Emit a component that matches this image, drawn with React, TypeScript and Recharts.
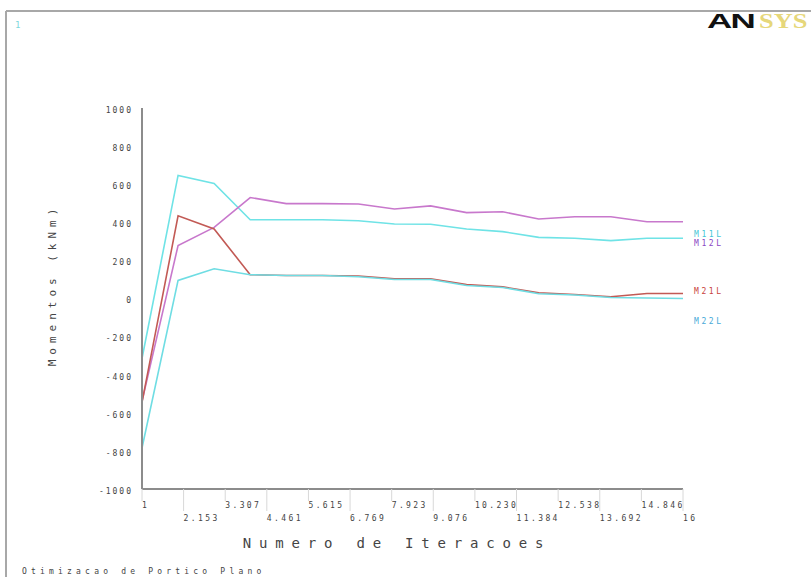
import React from 'react';
import { LineChart, Line, XAxis, YAxis } from 'recharts';

const iterations = [1, 2, 3, 4, 5, 6, 7, 8, 9, 10, 11, 12, 13, 14, 15, 16];
const m11l = [-315, 646, 604, 413, 413, 413, 408, 391, 390, 365, 351, 321, 316, 304, 316, 316];
const m12l = [-540, 278, 373, 530, 498, 498, 496, 470, 486, 451, 455, 417, 429, 429, 403, 403];
const m21l = [-545, 434, 365, 125, 121, 121, 118, 104, 104, 73, 61, 30, 21, 9, 26, 26];
const m22l = [-785, 95, 156, 125, 121, 121, 114, 100, 100, 68, 58, 25, 18, 5, 3, 0];

const seriesNames = ['M11L', 'M12L', 'M21L', 'M22L'];
const lineColors = ['#6fe3e6', '#c878cc', '#c25a55', '#6fdde3'];
const labelColors = ['#45c6d6', '#8a46c4', '#c8423c', '#47a9d8'];

const xTickValues = [1, 2.153, 3.307, 4.461, 5.615, 6.769, 7.923, 9.076, 10.23, 11.384, 12.538, 13.692, 14.846, 16];
const xTickLabels = ['1', '2.153', '3.307', '4.461', '5.615', '6.769', '7.923', '9.076', '10.230', '11.384', '12.538', '13.692', '14.846', '16'];
const yTicks = [-1000, -800, -600, -400, -200, 0, 200, 400, 600, 800, 1000];

const xTitle = 'Numero de Iteracoes';
const yTitle = 'Momentos (kNm)';
const footer = 'Otimizacao de Portico Plano';
const windowNumber = '1';

const data = iterations.map((it, i) => ({
  iter: it,
  M11L: m11l[i],
  M12L: m12l[i],
  M21L: m21l[i],
  M22L: m22l[i],
}));

const mono = '"DejaVu Sans Mono", "Liberation Mono", monospace';

const XTick = (props: any) => {
  const { x, y, index } = props;
  const upper = index % 2 === 0;
  return (
    <g>
      <line x1={x} y1={y} x2={x} y2={y + (upper ? 12 : 22)} stroke="#d8d8d8" strokeWidth={1} />
      <text x={x} y={y + (upper ? 19 : 32)} textAnchor="start" fontFamily={mono} fontSize={8} letterSpacing={2.4} fill="#444">
        {xTickLabels[index]}
      </text>
    </g>
  );
};

const legendY = [234, 243, 291, 321];

export default function App() {
  return (
    <div style={{ position: 'absolute', left: 0, top: 0, width: 811, height: 577, overflow: 'hidden', background: '#fff' }}>
      <LineChart
        width={811}
        height={577}
        data={data}
        margin={{ top: 108, right: 128, bottom: 58, left: 82 }}
      >
        <XAxis
          dataKey="iter"
          type="number"
          domain={[1, 16]}
          ticks={xTickValues}
          interval={0}
          tickSize={0}
          tickMargin={0}
          tickLine={false}
          axisLine={{ stroke: '#8c8c8c', strokeWidth: 2 }}
          tick={<XTick />}
          height={30}
        />
        <YAxis
          type="number"
          domain={[-1000, 1000]}
          ticks={yTicks}
          interval={0}
          width={60}
          tickSize={0}
          tickMargin={9}
          tickLine={false}
          axisLine={{ stroke: '#8c8c8c', strokeWidth: 2 }}
          tick={{ fontFamily: mono, fontSize: 8, fill: '#444', letterSpacing: 2, dy: 2 }}
        />
        {seriesNames.map((name, i) => (
          <Line
            key={name}
            dataKey={name}
            type="linear"
            stroke={lineColors[i]}
            strokeWidth={1.6}
            dot={false}
            activeDot={false}
            isAnimationActive={false}
          />
        ))}
      </LineChart>
      <svg width={811} height={577} style={{ position: 'absolute', left: 0, top: 0, pointerEvents: 'none' }}>
        <line x1={6} y1={11} x2={811} y2={11} stroke="#a8a8a8" strokeWidth={2} />
        <line x1={6} y1={11} x2={6} y2={577} stroke="#a8a8a8" strokeWidth={2} />
        <text x={15} y={28} fontFamily={mono} fontSize={9} fill="#7fd8dc">{windowNumber}</text>
        <g transform="translate(707,28) scale(1.75,1)">
          <text x={0} y={0} fontFamily='"Liberation Sans", Arial, sans-serif' fontWeight={900} fontSize={20} fill="#111" letterSpacing={-1}>AN</text>
        </g>
        <g transform="translate(759,28) scale(1.2,1)">
          <text x={0} y={0} fontFamily='"Liberation Serif", serif' fontWeight={700} fontSize={22} fill="#e6d77a">SYS</text>
        </g>
        {seriesNames.map((name, i) => (
          <text key={name} x={694} y={legendY[i] + 3} fontFamily={mono} fontSize={8} fill={labelColors[i]} letterSpacing={2.6}>
            {name}
          </text>
        ))}
        <text x={397} y={548} textAnchor="middle" fontFamily={mono} fontSize={14} fill="#444" letterSpacing={7.8}>{xTitle}</text>
        <text
          transform="translate(56,285) rotate(-90)"
          x={0}
          y={0}
          textAnchor="middle"
          fontFamily={mono}
          fontSize={11}
          fill="#444"
          letterSpacing={5}
        >
          {yTitle}
        </text>
        <text x={22} y={574} fontFamily={mono} fontSize={8} fill="#444" letterSpacing={4.2}>{footer}</text>
      </svg>
    </div>
  );
}
